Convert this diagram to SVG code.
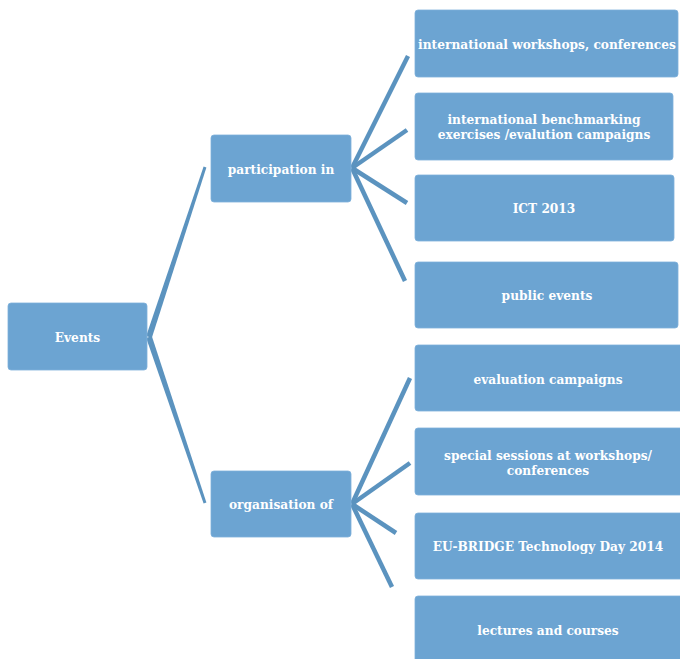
<svg xmlns="http://www.w3.org/2000/svg" width="680" height="659" viewBox="0 0 680 659">
<style>
.box{fill:#6ca4d2;stroke:#7fb0da;stroke-width:0.8}
.t{font-family:"DejaVu Serif","Liberation Serif",serif;font-weight:bold;font-size:12.2px;fill:#ffffff;text-anchor:middle}
.c{stroke:#5b93bf;stroke-width:4.5;stroke-linecap:butt;fill:none}
.w{fill:#5b93bf}
</style>
<rect width="680" height="659" fill="#ffffff"/>
<g id="connectors">
<polygon class="w" points="146.2,336.1 151.8,337.9 206.4,167.5 203.6,166.5"/>
<polygon class="w" points="146.2,337.9 151.8,336.1 206.4,502.5 203.6,503.5"/>
<line class="c" x1="352" y1="168" x2="408" y2="56"/>
<line class="c" x1="352" y1="168" x2="407" y2="130"/>
<line class="c" x1="352" y1="168" x2="407" y2="203"/>
<line class="c" x1="352" y1="168" x2="405" y2="281"/>
<line class="c" x1="352" y1="504" x2="410" y2="378"/>
<line class="c" x1="352" y1="504" x2="410" y2="463"/>
<line class="c" x1="352" y1="504" x2="396" y2="533"/>
<line class="c" x1="352" y1="504" x2="392" y2="587"/>
</g>
<g id="events"><rect class="box" x="8" y="303" width="139" height="67" rx="3"/><text class="t" x="77.5" y="341.5">Events</text></g>
<g id="participation"><rect class="box" x="211" y="135" width="140" height="67" rx="3"/><text class="t" x="281" y="173.5">participation in</text></g>
<g id="organisation"><rect class="box" x="211" y="471" width="140" height="66" rx="3"/><text class="t" x="281" y="508.5">organisation of</text></g>
<g id="n1"><rect class="box" x="415" y="10" width="263" height="67" rx="3"/><text class="t" x="547" y="48.5">international workshops, conferences</text></g>
<g id="n2"><rect class="box" x="415" y="93" width="258" height="67" rx="3"/><text class="t" x="544" y="123.5">international benchmarking</text><text class="t" x="544" y="138.5">exercises /evalution campaigns</text></g>
<g id="n3"><rect class="box" x="415" y="175" width="259" height="66" rx="3"/><text class="t" x="544" y="212.5">ICT 2013</text></g>
<g id="n4"><rect class="box" x="415" y="262" width="263" height="66" rx="3"/><text class="t" x="547" y="299.5">public events</text></g>
<g id="n5"><rect class="box" x="415" y="345" width="268" height="66" rx="3"/><text class="t" x="548" y="383.5">evaluation campaigns</text></g>
<g id="n6"><rect class="box" x="415" y="428" width="268" height="67" rx="3"/><text class="t" x="548" y="459.5">special sessions at workshops/</text><text class="t" x="548" y="474.5">conferences</text></g>
<g id="n7"><rect class="box" x="415" y="513" width="268" height="66" rx="3"/><text class="t" x="548" y="550.5">EU-BRIDGE Technology Day 2014</text></g>
<g id="n8"><rect class="box" x="415" y="596" width="268" height="70" rx="3"/><text class="t" x="548" y="634.5">lectures and courses</text></g>
</svg>
